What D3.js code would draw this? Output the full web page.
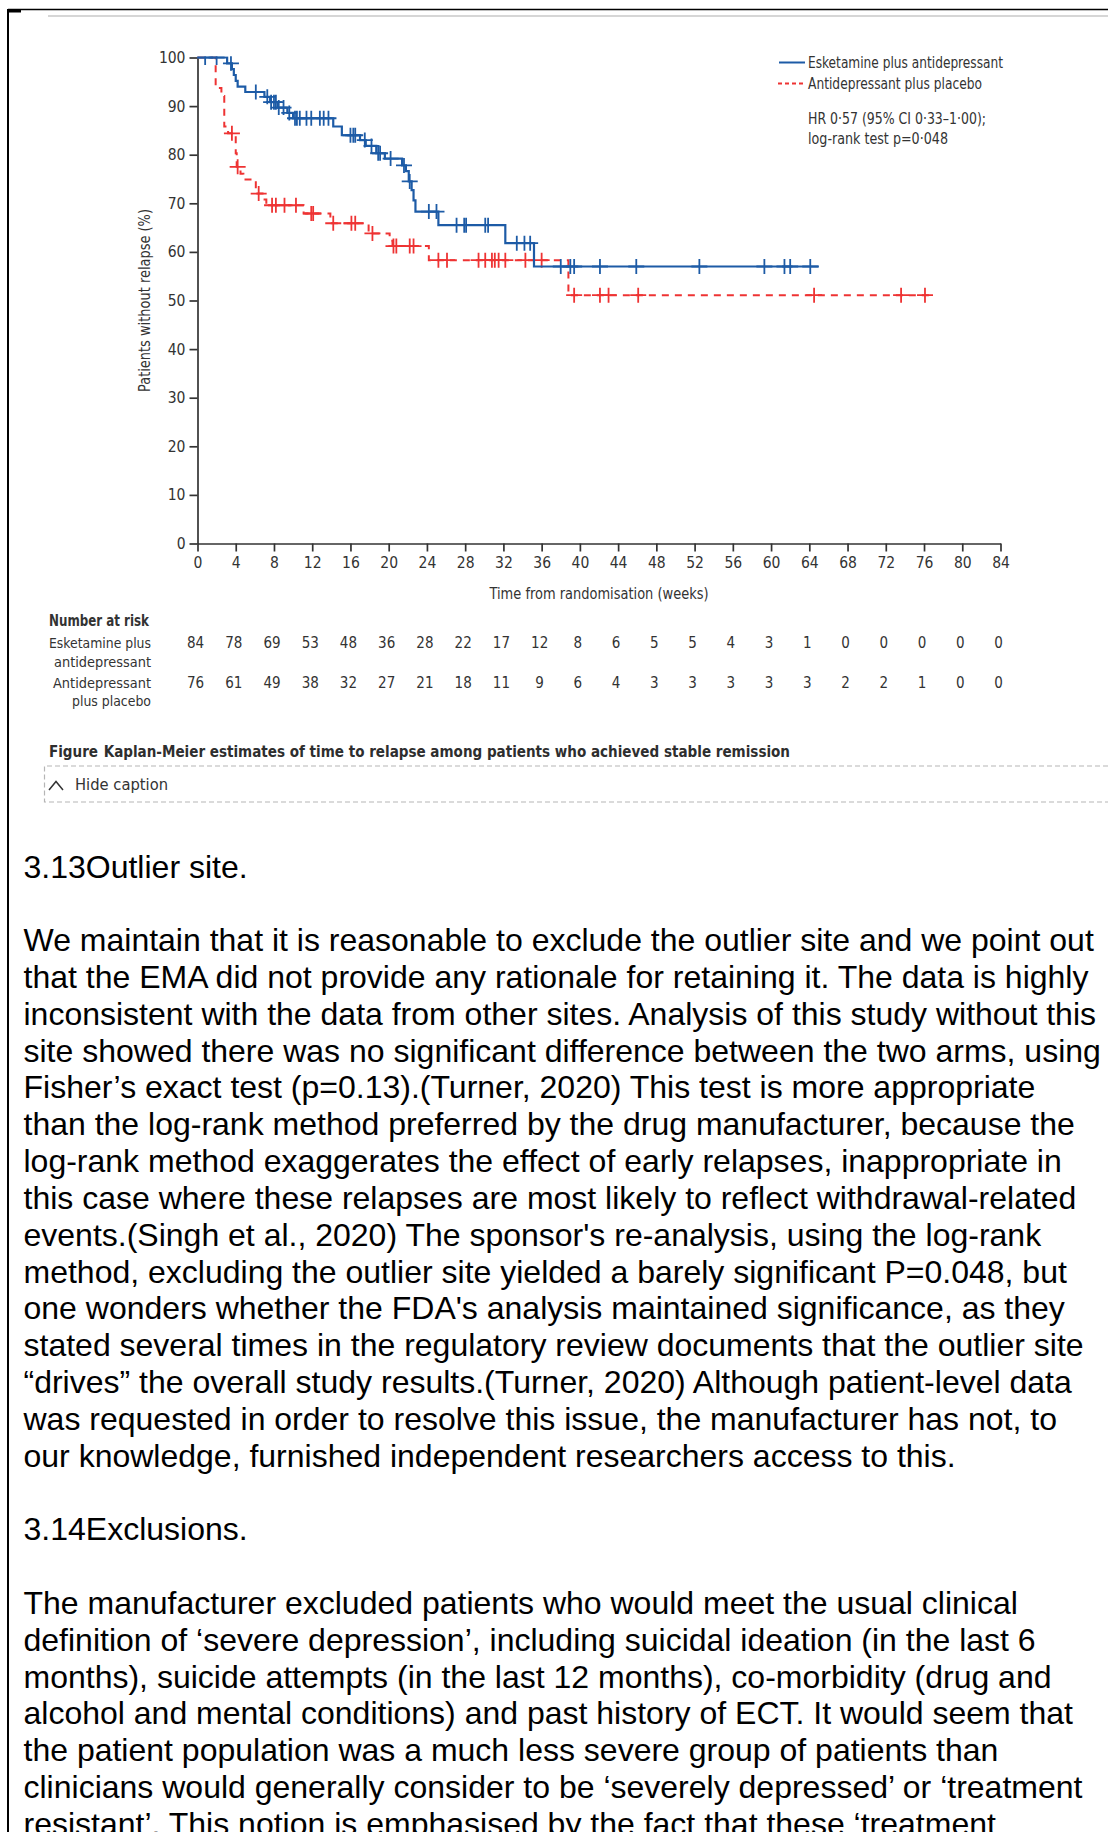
<!DOCTYPE html>
<html>
<head>
<meta charset="utf-8">
<script src="https://cdn.jsdelivr.net/npm/d3@7"></script>
<style>
  html, body { margin: 0; padding: 0; background: #fff; }
  svg { display: block; }
</style>
</head>
<body>
<svg id="page" width="1108" height="1832"></svg>
<script>
// ---------- data ----------
const weekTicks = [0, 4, 8, 12, 16, 20, 24, 28, 32, 36, 40, 44, 48, 52, 56, 60, 64, 68, 72, 76, 80, 84];
const pctTicks = [0, 10, 20, 30, 40, 50, 60, 70, 80, 90, 100];

// Esketamine plus antidepressant: step changes (week, % without relapse)
const eskStepWeeks = [0, 3.1, 3.6, 3.8, 4.0, 4.2, 5.0, 7.0, 7.6, 8.4, 9.4, 10.0, 14.2, 15.1, 17.0, 17.6, 18.7, 19.6, 21.4, 21.8, 22.1, 22.4, 22.6, 22.8, 25.2, 32.2, 35.2];
const eskStepPct   = [100, 98.8, 97.6, 96.4, 95.2, 94.0, 92.9, 91.9, 90.8, 89.7, 88.6, 87.5, 85.8, 84.0, 83.0, 81.8, 80.3, 79.2, 77.8, 76.6, 74.5, 72.7, 70.6, 68.3, 65.5, 61.8, 57.0];
const eskCensorWeeks = [0.8, 2.0, 3.5, 6.1, 7.3, 7.7, 8.0, 8.2, 8.5, 9.0, 9.6, 10.2, 10.4, 10.7, 11.4, 11.9, 12.8, 13.2, 13.7, 16.0, 16.3, 16.5, 17.5, 18.2, 18.9, 19.1, 20.2, 21.6, 22.2, 24.2, 25.0, 27.1, 27.9, 28.1, 30.1, 30.4, 33.4, 34.2, 34.8, 38.0, 39.0, 39.4, 42.1, 45.9, 52.5, 59.3, 61.4, 62.0, 64.1];
const eskLastWeek = 65.0;

// Antidepressant plus placebo
const plaStepWeeks = [0, 1.9, 2.5, 2.8, 3.2, 4.0, 4.1, 4.5, 4.8, 6.1, 6.8, 7.2, 11.1, 13.9, 17.9, 20.1, 20.4, 24.2, 38.8];
const plaStepPct   = [100, 93.7, 92.1, 85.8, 84.4, 80.3, 77.5, 76.1, 74.9, 72.0, 70.8, 69.6, 67.9, 65.9, 63.8, 62.3, 61.2, 58.3, 51.1];
const plaCensorWeeks = [3.6, 4.2, 6.4, 7.8, 8.2, 9.1, 10.3, 11.9, 12.1, 14.2, 16.1, 16.5, 18.3, 20.5, 20.8, 22.2, 22.6, 25.2, 26.1, 29.4, 30.1, 30.8, 31.1, 31.5, 32.2, 34.3, 36.0, 39.4, 42.1, 43.0, 46.1, 64.5, 73.6, 76.1];
const plaLastWeek = 76.9;

// Number at risk at each tick week
const riskEsk = [84, 78, 69, 53, 48, 36, 28, 22, 17, 12, 8, 6, 5, 5, 4, 3, 1, 0, 0, 0, 0, 0];
const riskPla = [76, 61, 49, 38, 32, 27, 21, 18, 11, 9, 6, 4, 3, 3, 3, 3, 3, 2, 2, 1, 0, 0];

const seriesNames = ["Esketamine plus antidepressant", "Antidepressant plus placebo"];
const statLines = ["HR 0·57 (95% CI 0·33–1·00);", "log-rank test p=0·048"];

const heading1 = "3.13Outlier site.";
const outlierLines = [
  "We maintain that it is reasonable to exclude the outlier site and we point out",
  "that the EMA did not provide any rationale for retaining it. The data is highly",
  "inconsistent with the data from other sites. Analysis of this study without this",
  "site showed there was no significant difference between the two arms, using",
  "Fisher’s exact test (p=0.13).(Turner, 2020) This test is more appropriate",
  "than the log-rank method preferred by the drug manufacturer, because the",
  "log-rank method exaggerates the effect of early relapses, inappropriate in",
  "this case where these relapses are most likely to reflect withdrawal-related",
  "events.(Singh et al., 2020) The sponsor's re-analysis, using the log-rank",
  "method, excluding the outlier site yielded a barely significant P=0.048, but",
  "one wonders whether the FDA's analysis maintained significance, as they",
  "stated several times in the regulatory review documents that the outlier site",
  "“drives” the overall study results.(Turner, 2020) Although patient-level data",
  "was requested in order to resolve this issue, the manufacturer has not, to",
  "our knowledge, furnished independent researchers access to this."
];
const heading2 = "3.14Exclusions.";
const exclusionLines = [
  "The manufacturer excluded patients who would meet the usual clinical",
  "definition of ‘severe depression’, including suicidal ideation (in the last 6",
  "months), suicide attempts (in the last 12 months), co-morbidity (drug and",
  "alcohol and mental conditions) and past history of ECT. It would seem that",
  "the patient population was a much less severe group of patients than",
  "clinicians would generally consider to be ‘severely depressed’ or ‘treatment",
  "resistant’. This notion is emphasised by the fact that these ‘treatment"
];

// ---------- styles ----------
const BLUE = "#1d5ba6";
const RED = "#ee3333";
const INK = "#333";
const CHART_FONT = "'Liberation Sans Narrow','DejaVu Sans Condensed','Open Sans',sans-serif";
const BODY_FONT = "'Liberation Sans', Arial, sans-serif";

const svg = d3.select("#page");
svg.append("rect").attr("width", 1108).attr("height", 1832).attr("fill", "#fff");

// page frame
svg.append("line").attr("x1", 8).attr("x2", 1108).attr("y1", 9.5).attr("y2", 9.5)
  .attr("stroke", "#000").attr("stroke-width", 1.6);
svg.append("line").attr("x1", 8).attr("x2", 8).attr("y1", 9).attr("y2", 1832)
  .attr("stroke", "#000").attr("stroke-width", 2);
svg.append("rect").attr("x", 8).attr("y", 9).attr("width", 13).attr("height", 3.5).attr("fill", "#000");
svg.append("line").attr("x1", 48).attr("x2", 1108).attr("y1", 16).attr("y2", 16)
  .attr("stroke", "#c9c9c9").attr("stroke-width", 1.6);

// ---------- scales & axes ----------
const x = d3.scaleLinear().domain([0, 84]).range([197.5, 1000.5]);
const y = d3.scaleLinear().domain([0, 100]).range([543.5, 57.5]);

const chart = svg.append("g");

// plot area clip: censor marks at 100% only hang below the top edge
svg.append("defs").append("clipPath").attr("id", "plotClip")
  .append("rect").attr("x", x(0) - 10).attr("y", y(100) - 1.3)
  .attr("width", x(84) - x(0) + 20).attr("height", y(0) - y(100) + 10);

const yAxis = chart.append("g").attr("transform", `translate(${x(0)},0)`)
  .call(d3.axisLeft(y).tickValues(pctTicks).tickSize(8).tickSizeOuter(0).tickPadding(4));
const xAxis = chart.append("g").attr("transform", `translate(0,${y(0)})`)
  .call(d3.axisBottom(x).tickValues(weekTicks).tickSize(8).tickSizeOuter(0).tickPadding(5));

[yAxis, xAxis].forEach(a => {
  a.select(".domain").attr("stroke", INK).attr("stroke-width", 1.7);
  a.selectAll(".tick line").attr("stroke", INK).attr("stroke-width", 1.7);
  a.selectAll(".tick text").attr("fill", INK).style("font-family", CHART_FONT).style("font-size", "15.5px");
});

// axis titles
chart.append("text")
  .attr("transform", `translate(150,${(y(0) + y(100)) / 2}) rotate(-90)`)
  .attr("text-anchor", "middle")
  .attr("textLength", 183).attr("lengthAdjust", "spacingAndGlyphs")
  .attr("fill", INK).style("font-family", CHART_FONT).style("font-size", "15px")
  .text("Patients without relapse (%)");

chart.append("text")
  .attr("x", (x(0) + x(84)) / 2).attr("y", 599)
  .attr("text-anchor", "middle")
  .attr("textLength", 219).attr("lengthAdjust", "spacingAndGlyphs")
  .attr("fill", INK).style("font-family", CHART_FONT).style("font-size", "15px")
  .text("Time from randomisation (weeks)");

// ---------- Kaplan-Meier curves ----------
function kmPoints(weeks, pct, lastWeek) {
  const pts = weeks.map((w, i) => [w, pct[i]]);
  pts.push([lastWeek, pct[pct.length - 1]]);
  return pts;
}
function survAt(weeks, pct, t) {
  const i = d3.bisectRight(weeks, t) - 1;
  return pct[Math.max(0, i)];
}
const stepLine = d3.line().x(d => x(d[0])).y(d => y(d[1])).curve(d3.curveStepAfter);
const plusPath = "M-8,0H8M0,-7.5V7.5";

const curves = [
  { weeks: plaStepWeeks, pct: plaStepPct, censor: plaCensorWeeks, last: plaLastWeek, color: RED, dash: "7,6", width: 2 },
  { weeks: eskStepWeeks, pct: eskStepPct, censor: eskCensorWeeks, last: eskLastWeek, color: BLUE, dash: null, width: 2.2 }
];

const plot = chart.append("g").attr("clip-path", "url(#plotClip)");
curves.forEach(c => {
  const g = plot.append("g");
  g.append("path")
    .attr("d", stepLine(kmPoints(c.weeks, c.pct, c.last)))
    .attr("fill", "none").attr("stroke", c.color).attr("stroke-width", c.width)
    .attr("stroke-dasharray", c.dash);
  g.selectAll("path.censor").data(c.censor).join("path")
    .attr("class", "censor")
    .attr("transform", t => `translate(${x(t)},${y(survAt(c.weeks, c.pct, t))})`)
    .attr("d", plusPath)
    .attr("fill", "none").attr("stroke", c.color).attr("stroke-width", 1.8);
});

// ---------- legend & statistics ----------
const legend = chart.append("g");
legend.append("line").attr("x1", 779).attr("x2", 805).attr("y1", 62.5).attr("y2", 62.5)
  .attr("stroke", BLUE).attr("stroke-width", 2);
legend.append("line").attr("x1", 778).attr("x2", 805).attr("y1", 83.5).attr("y2", 83.5)
  .attr("stroke", RED).attr("stroke-width", 1.8).attr("stroke-dasharray", "4,3");
const legendText = [
  { t: seriesNames[0], y: 68, w: 195 },
  { t: seriesNames[1], y: 89, w: 174 },
  { t: statLines[0], y: 124, w: 178 },
  { t: statLines[1], y: 144, w: 140 }
];
legend.selectAll("text").data(legendText).join("text")
  .attr("x", 808).attr("y", d => d.y)
  .attr("textLength", d => d.w).attr("lengthAdjust", "spacingAndGlyphs")
  .attr("fill", INK).style("font-family", CHART_FONT).style("font-size", "15.5px")
  .text(d => d.t);

// ---------- number at risk table ----------
const risk = svg.append("g").style("font-family", CHART_FONT).attr("fill", INK);
risk.append("text").attr("x", 49).attr("y", 626)
  .attr("textLength", 100).attr("lengthAdjust", "spacingAndGlyphs")
  .style("font-size", "15px").style("font-weight", "600").text("Number at risk");
const rowLabels = [
  { t: "Esketamine plus", y: 648, w: 102 },
  { t: "antidepressant", y: 667, w: 97 },
  { t: "Antidepressant", y: 688, w: 98 },
  { t: "plus placebo", y: 706, w: 79 }
];
risk.selectAll("text.rowlab").data(rowLabels).join("text")
  .attr("class", "rowlab")
  .attr("x", 151).attr("y", d => d.y).attr("text-anchor", "end")
  .attr("textLength", d => d.w).attr("lengthAdjust", "spacingAndGlyphs")
  .style("font-size", "14.5px").text(d => d.t);

[[riskEsk, 648], [riskPla, 688]].forEach(([vals, yy]) => {
  risk.append("g").selectAll("text").data(vals).join("text")
    .attr("x", (d, i) => x(weekTicks[i]) - 2).attr("y", yy)
    .attr("text-anchor", "middle")
    .style("font-size", "15px").text(d => d);
});

// ---------- caption ----------
const cap = svg.append("text").attr("x", 49).attr("y", 757)
  .attr("textLength", 741).attr("lengthAdjust", "spacingAndGlyphs")
  .attr("fill", "#2e2e2e").style("font-family", CHART_FONT).style("font-size", "16px").style("font-weight", "bold");
cap.append("tspan").text("Figure");
cap.append("tspan").attr("dx", 6).text("Kaplan-Meier estimates of time to relapse among patients who achieved stable remission");

svg.append("path")
  .attr("d", "M1108,766H44.5V802H1108")
  .attr("fill", "none").attr("stroke", "#b5b5b5").attr("stroke-width", 1.2).attr("stroke-dasharray", "5,3");
svg.append("path").attr("d", "M49,790L56,781.5L63,790")
  .attr("fill", "none").attr("stroke", "#333").attr("stroke-width", 1.5);
svg.append("text").attr("x", 75).attr("y", 790)
  .attr("textLength", 93).attr("lengthAdjust", "spacingAndGlyphs")
  .attr("fill", "#333").style("font-family", CHART_FONT).style("font-size", "15.5px")
  .text("Hide caption");

// ---------- body text ----------
const LINE = 36.82;
const firstBaseline = 877.5;
const bodyRows = [];
bodyRows.push({ row: 0, t: heading1 });
outlierLines.forEach((t, i) => bodyRows.push({ row: 2 + i, t }));
bodyRows.push({ row: 2 + outlierLines.length + 1, t: heading2 });
exclusionLines.forEach((t, i) => bodyRows.push({ row: 2 + outlierLines.length + 3 + i, t }));

svg.append("g").selectAll("text").data(bodyRows).join("text")
  .attr("x", 23.5).attr("y", d => firstBaseline + d.row * LINE)
  .attr("fill", "#000").style("font-family", BODY_FONT).style("font-size", "32px")
  .text(d => d.t);
</script>
</body>
</html>
